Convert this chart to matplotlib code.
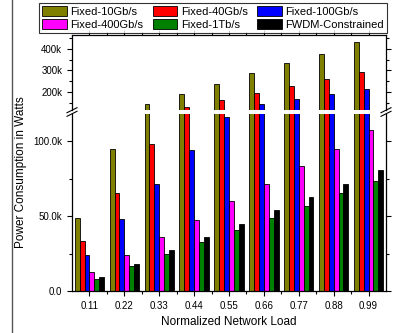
import numpy as np
import matplotlib
matplotlib.use("Agg")
import matplotlib.pyplot as plt
from matplotlib.lines import Line2D
from matplotlib.ticker import FuncFormatter, MultipleLocator

plt.rcParams['font.family'] = ['Liberation Sans', 'DejaVu Sans']

# данные (в ваттах)
loads = ['0.11', '0.22', '0.33', '0.44', '0.55', '0.66', '0.77', '0.88', '0.99']
fixed_10g = [48.5e3, 95e3, 144e3, 190e3, 239e3, 287e3, 333e3, 376e3, 432e3]
fixed_40g = [33.3e3, 65.5e3, 98e3, 131e3, 162e3, 194e3, 228e3, 258e3, 294e3]
fixed_100g = [24.2e3, 47.8e3, 71.3e3, 94.3e3, 116e3, 143e3, 167e3, 189e3, 214e3]
fixed_400g = [12.4e3, 24.2e3, 35.8e3, 47.1e3, 59.8e3, 71.1e3, 83.3e3, 94.4e3, 107.3e3]
fixed_1t = [8.2e3, 16.7e3, 24.4e3, 32.4e3, 40.7e3, 48.6e3, 56.8e3, 65.1e3, 73.3e3]
fwdm = [9.1e3, 18.2e3, 27.1e3, 35.8e3, 44.7e3, 53.8e3, 62.4e3, 71.1e3, 80.4e3]

series = [
    ('Fixed-10Gb/s', fixed_10g, '#808000'),
    ('Fixed-40Gb/s', fixed_40g, '#FF0000'),
    ('Fixed-100Gb/s', fixed_100g, '#0000FF'),
    ('Fixed-400Gb/s', fixed_400g, '#FF00FF'),
    ('Fixed-1Tb/s', fixed_1t, '#008000'),
    ('FWDM-Constrained', fwdm, '#000000'),
]

W, H = 394, 333
fig = plt.figure(figsize=(W / 100, H / 100), dpi=100)

x0, x1 = 72, 386
ax_lo = fig.add_axes([x0 / W, (H - 291) / H, (x1 - x0) / W, (291 - 114) / H])
ax_hi = fig.add_axes([x0 / W, (H - 109.8) / H, (x1 - x0) / W, (109.8 - 35) / H])

x = np.arange(len(loads))
bw = 0.14
handles = []
for i, (name, vals, col) in enumerate(series):
    off = (i - 2.5) * bw
    for ax in (ax_lo, ax_hi):
        b = ax.bar(x + off, vals, bw, color=col, edgecolor='black', linewidth=0.6, label=name)
    handles.append(b)

ax_lo.set_ylim(0, 118e3)
ax_hi.set_ylim(117e3, 465e3)
for ax in (ax_lo, ax_hi):
    ax.set_xlim(-0.5, len(loads) - 0.5)
    for s in ax.spines.values():
        s.set_linewidth(0.9)
    ax.tick_params(which='both', direction='out', labelsize=7, width=0.8)
    ax.tick_params(which='major', length=3.5)
    ax.tick_params(which='minor', length=2)

ax_lo.spines['top'].set_visible(False)
ax_hi.spines['bottom'].set_visible(False)

ax_lo.set_xticks(x)
ax_lo.set_xticklabels(loads)
ax_lo.set_xticks(x[:-1] + 0.5, minor=True)
ax_lo.tick_params(axis='x', which='both', top=False)
ax_lo.tick_params(axis='y', which='both', right=True)
ax_lo.yaxis.set_major_locator(MultipleLocator(50e3))
ax_lo.yaxis.set_minor_locator(MultipleLocator(25e3))
ax_lo.yaxis.set_major_formatter(FuncFormatter(lambda v, p: '0.0' if v == 0 else f'{v / 1000:.1f}k'))

ax_hi.set_xticks(x)
ax_hi.set_xticks(x[:-1] + 0.5, minor=True)
ax_hi.tick_params(axis='x', which='both', bottom=False, top=True, labelbottom=False)
ax_hi.tick_params(axis='y', which='both', right=True)
ax_hi.yaxis.set_major_locator(MultipleLocator(100e3))
ax_hi.yaxis.set_minor_locator(MultipleLocator(50e3))
ax_hi.yaxis.set_major_formatter(FuncFormatter(lambda v, p: f'{v / 1000:.0f}k'))

ax_lo.set_xlabel('Normalized Network Load', fontsize=8.5, labelpad=4)
fig.text(21 / W, 1 - 172 / H, 'Power Consumption in Watts', rotation=90,
         ha='center', va='center', fontsize=8.5)

# знаки разрыва оси
for xp in (x0, x1):
    for dy in (-1.8, 1.8):
        yc = 112 + dy
        fig.add_artist(Line2D([(xp - 5) / W, (xp + 5) / W],
                              [1 - (yc + 2.5) / H, 1 - (yc - 2.5) / H],
                              color='black', lw=0.8))

# рамка слева
fig.add_artist(Line2D([12 / W, 12 / W], [0, 1], color='#555555', lw=1))

order = [0, 3, 1, 4, 2, 5]
leg = fig.legend([handles[i] for i in order], [series[i][0] for i in order],
                 ncol=3, mode='expand', loc='upper left',
                 bbox_to_anchor=(39 / W, 0, 348 / W, 1 - 3 / H),
                 fontsize=8, frameon=True, fancybox=False, edgecolor='black',
                 handlelength=2.2, handleheight=0.95, handletextpad=0.3,
                 labelspacing=0.2, columnspacing=0.5, borderpad=0.3, borderaxespad=0)
leg.get_frame().set_linewidth(0.8)

fig.savefig('out.png', dpi=100)
